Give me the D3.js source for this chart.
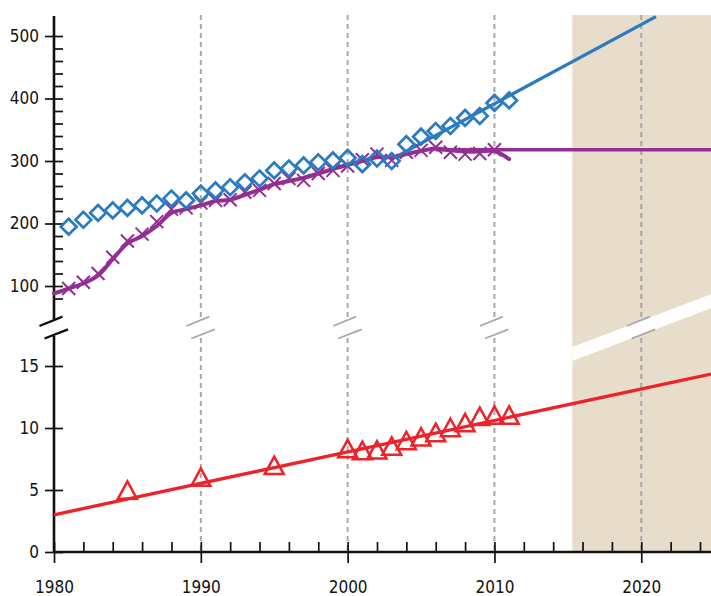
<!DOCTYPE html>
<html>
<head>
<meta charset="utf-8">
<script src="https://cdn.jsdelivr.net/npm/d3@7"></script>
<style>
    body { margin: 0; background: #fff; }
    svg { display: block; }
    .tick text { font-family: "DejaVu Sans Condensed", "Liberation Sans Narrow", sans-serif; font-size: 17px; fill: #111; }
</style>
</head>
<body>
<div id="chart"></div>
<script>
"use strict";

// upper panel: diamonds (blue) and crosses (purple)
const diamondYears = d3.range(1981, 2012);
const diamondVals = [195, 206, 217, 221, 225, 229, 232, 240, 237, 248, 253, 258, 266, 272, 285, 288,
    293, 298, 301, 305, 295, 304, 300, 327, 339, 348, 356, 369, 372, 393, 397];

const crossYears = d3.range(1981, 2011);
const crossVals = [96, 106, 120, 146, 172, 183, 203, 223, 225, 233, 237, 238, 250, 253, 264, 272,
    269, 280, 285, 292, 302, 311, 301, 314, 317, 322, 314, 311, 312, 318];

const smoothYears = d3.range(1980, 2012);
const smoothVals = [88, 96, 104, 117, 143, 168, 180, 196, 217, 223, 229, 236, 238, 246, 254, 263,
    268, 273, 280, 287, 294, 300, 306, 306, 311, 316, 320, 317, 315, 315, 316, 303];

const blueTrendYears = [2003, 2021];
const blueTrendVals = [303, 531];
const purpleFlatYears = [2006, 2024.75];
const purpleFlatVals = [318, 318];

// lower panel: triangles (red)
const triYears = [1985, 1990, 1995, 2000, 2001, 2002, 2003, 2004, 2005, 2006, 2007, 2008, 2009, 2010, 2011];
const triVals = [4.85, 5.9, 6.85, 8.2, 8.05, 8.1, 8.4, 8.85, 9.15, 9.5, 9.9, 10.3, 10.8, 10.9, 10.9];
const redTrendYears = [1980, 2024.75];
const redTrendVals = [3.0, 14.35];

// ticks
const upperMajor = [100, 200, 300, 400, 500];
const upperMinor = d3.range(80, 501, 20);
const lowerMajor = [0, 5, 10, 15];
const xMajor = [1980, 1990, 2000, 2010, 2020];
const xMinor = d3.range(1980, 2025, 2);
const gridYears = [1990, 2000, 2010, 2020];
const projectionStart = 2015.3;

const width = 711, height = 596;
const blue = "#2a7bc0", purple = "#932f92", red = "#ee2229", shade = "#e8dccb", grid = "#a8a8a8";

const svg = d3.select("#chart").append("svg")
    .attr("width", width)
    .attr("height", height);

const x = d3.scaleLinear().domain([1980, 2024.75]).range([54, 711]);
const yUp = d3.scaleLinear().domain([100, 500]).range([286, 36]);
const yLow = d3.scaleLinear().domain([0, 15]).range([552, 366]);

const plotTop = 15;
const breakY = 327.5;
const upperEnd = 319, lowerStart = 336;

// projection shading with the white break band through it
svg.append("rect")
    .attr("x", x(projectionStart))
    .attr("y", plotTop)
    .attr("width", width - x(projectionStart))
    .attr("height", yLow(0) - plotTop)
    .attr("fill", shade);

const slope = -0.38;
const x20 = x(2020);
const bandY = (xx, off) => off + slope * (xx - x20);
const xs = x(projectionStart);
svg.append("polygon")
    .attr("points", [
        [xs, bandY(xs, 320.7)], [width, bandY(width, 320.7)],
        [width, bandY(width, 334.7)], [xs, bandY(xs, 334.7)]
    ].map(p => p.join(",")).join(" "))
    .attr("fill", "#fff");

// dashed gridlines, interrupted at the break
gridYears.forEach(yr => {
    [[plotTop, upperEnd], [lowerStart + 2, yLow(0)]].forEach(([a, b]) => {
        svg.append("line")
            .attr("x1", x(yr)).attr("x2", x(yr))
            .attr("y1", a).attr("y2", b)
            .attr("stroke", grid)
            .attr("stroke-width", 2)
            .attr("stroke-dasharray", "5,4");
    });
});

function breakMark(cx, color, w) {
    const segs = [[[-14.5, -1.5], [8.5, -10.8]], [[-9.5, 11], [14, 1.8]]];
    segs.forEach(s => {
        svg.append("line")
            .attr("x1", cx + s[0][0]).attr("y1", breakY + s[0][1])
            .attr("x2", cx + s[1][0]).attr("y2", breakY + s[1][1])
            .attr("stroke", color)
            .attr("stroke-width", w);
    });
}
gridYears.forEach(yr => breakMark(x(yr), grid, 1.8));

// axes
svg.append("g")
    .attr("transform", `translate(0,${yLow(0)})`)
    .call(d3.axisBottom(x).tickValues(xMinor).tickSize(-10).tickFormat(""));
svg.append("g")
    .attr("transform", `translate(0,${yLow(0)})`)
    .call(d3.axisBottom(x).tickValues(xMajor).tickSize(11).tickPadding(18).tickFormat(d3.format("d")));

svg.append("g")
    .attr("transform", `translate(${x(1980)},0)`)
    .call(d3.axisLeft(yUp).tickValues(upperMinor).tickSize(-9).tickFormat(""));
svg.append("g")
    .attr("transform", `translate(${x(1980)},0)`)
    .call(d3.axisLeft(yUp).tickValues(upperMajor).tickSize(9).tickPadding(6));

svg.append("g")
    .attr("transform", `translate(${x(1980)},0)`)
    .call(d3.axisLeft(yLow).tickValues(lowerMajor).tickSize(9).tickPadding(6));
svg.append("g")
    .attr("transform", `translate(${x(1980)},0)`)
    .call(d3.axisLeft(yLow).tickValues(lowerMajor).tickSize(-9).tickFormat(""));

svg.selectAll(".domain").remove();
svg.selectAll(".tick line").attr("stroke", "#111").attr("stroke-width", 1.7);

// axis lines
svg.append("line")
    .attr("x1", x(1980)).attr("x2", width)
    .attr("y1", yLow(0)).attr("y2", yLow(0))
    .attr("stroke", "#111").attr("stroke-width", 2.6);
svg.append("line")
    .attr("x1", x(1980)).attr("x2", x(1980))
    .attr("y1", 16).attr("y2", upperEnd)
    .attr("stroke", "#111").attr("stroke-width", 2.6);
svg.append("line")
    .attr("x1", x(1980)).attr("x2", x(1980))
    .attr("y1", lowerStart).attr("y2", yLow(0))
    .attr("stroke", "#111").attr("stroke-width", 2.6);
breakMark(x(1980), "#111", 2.4);

// lines
const lineUp = d3.line().x(d => x(d[0])).y(d => yUp(d[1]));
const lineLow = d3.line().x(d => x(d[0])).y(d => yLow(d[1]));
const smoothLine = d3.line().x(d => x(d[0])).y(d => yUp(d[1])).curve(d3.curveCatmullRom.alpha(0.5));

svg.append("path")
    .datum(d3.zip(redTrendYears, redTrendVals))
    .attr("d", lineLow)
    .attr("fill", "none").attr("stroke", red).attr("stroke-width", 3.3);

svg.append("path")
    .datum(d3.zip(purpleFlatYears, purpleFlatVals))
    .attr("d", lineUp)
    .attr("fill", "none").attr("stroke", purple).attr("stroke-width", 3.4);

svg.append("path")
    .datum(d3.zip(smoothYears, smoothVals))
    .attr("d", smoothLine)
    .attr("fill", "none").attr("stroke", purple).attr("stroke-width", 4)
    .attr("stroke-linecap", "round");

svg.append("path")
    .datum(d3.zip(blueTrendYears, blueTrendVals))
    .attr("d", lineUp)
    .attr("fill", "none").attr("stroke", blue).attr("stroke-width", 3.3);

// markers
svg.append("g").selectAll("path")
    .data(d3.zip(crossYears, crossVals))
    .join("path")
    .attr("transform", d => `translate(${x(d[0])},${yUp(d[1])})`)
    .attr("d", "M-6.5,-6.5L6.5,6.5M-6.5,6.5L6.5,-6.5")
    .attr("fill", "none").attr("stroke", purple).attr("stroke-width", 2);

svg.append("g").selectAll("path")
    .data(d3.zip(diamondYears, diamondVals))
    .join("path")
    .attr("transform", d => `translate(${x(d[0])},${yUp(d[1])}) rotate(45)`)
    .attr("d", d3.symbol(d3.symbolSquare, 125))
    .attr("fill", "none").attr("stroke", blue).attr("stroke-width", 2.7);

svg.append("g").selectAll("path")
    .data(d3.zip(triYears, triVals))
    .join("path")
    .attr("transform", d => `translate(${x(d[0])},${yLow(d[1])})`)
    .attr("d", "M0,-10.5L9.5,7L-9.5,7Z")
    .attr("fill", "none").attr("stroke", red).attr("stroke-width", 2.5);
</script>
</body>
</html>
